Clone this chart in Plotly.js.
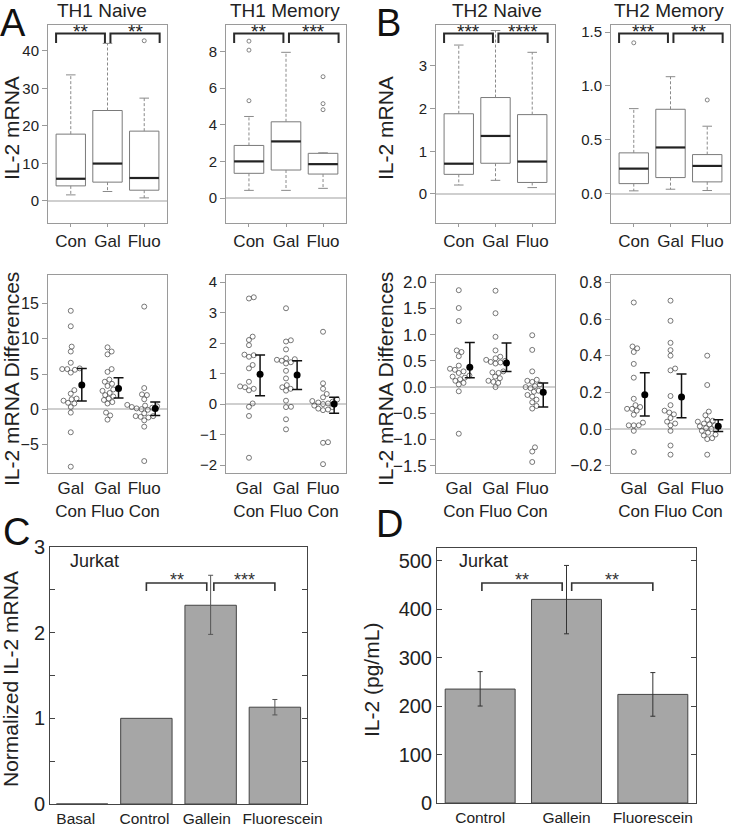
<!DOCTYPE html>
<html><head><meta charset="utf-8">
<script src="https://cdn.plot.ly/plotly-3.0.1.min.js"></script>
<style>html,body{margin:0;padding:0;background:#fff}#chart{width:731px;height:826px}</style>
</head><body><div id="chart"></div>
<script>
// ================= DATA =================
const boxCats = ['Con', 'Gal', 'Fluo'];
const diffCats = ['Gal<br>Con', 'Gal<br>Fluo', 'Fluo<br>Con'];

// TH1 Naive (box stats)
const th1nQ1 = [4.0, 5.0, 2.85];
const th1nMed = [5.9, 9.95, 6.1];
const th1nQ3 = [17.8, 24.1, 18.6];
const th1nLo = [1.6, 2.5, 0.8];
const th1nHi = [33.6, 42.0, 27.4];
const th1nOut = [[], [], [42.7]];
const th1nSig = ['**', '**'];
// TH1 Memory
const th1mQ1 = [1.35, 1.53, 1.31];
const th1mMed = [2.0, 3.09, 1.85];
const th1mQ3 = [2.87, 4.16, 2.44];
const th1mLo = [0.42, 0.42, 0.53];
const th1mHi = [4.45, 7.95, 2.47];
const th1mOut = [[8.56, 8.07, 5.31], [], [6.62, 5.15, 4.82]];
const th1mSig = ['**', '***'];
// TH2 Naive
const th2nQ1 = [0.46, 0.72, 0.27];
const th2nMed = [0.71, 1.36, 0.76];
const th2nQ3 = [1.88, 2.26, 1.86];
const th2nLo = [0.21, 0.32, 0.15];
const th2nHi = [3.49, 3.83, 3.32];
const th2nOut = [[], [], []];
const th2nSig = ['***', '****'];
// TH2 Memory
const th2mQ1 = [0.095, 0.151, 0.111];
const th2mMed = [0.234, 0.43, 0.259];
const th2mQ3 = [0.38, 0.784, 0.364];
const th2mLo = [0.028, 0.043, 0.031];
const th2mHi = [0.79, 1.086, 0.627];
const th2mOut = [[1.40], [], [0.87]];
const th2mSig = ['***', '**'];

// Differences: TH1 Naive
const d1nGalCon = [14.0, 11.8, 8.9, 8.2, 6.6, 5.8, 5.7, 5.7, 5.6, 5.2, 2.7, 2.2, 1.5, 1.4, 1.2, 0.9, 0.8, 0.3, -0.5, -3.3, -8.2];
const d1nGalFluo = [8.8, 8.2, 7.8, 5.7, 5.3, 4.2, 3.9, 3.6, 3.3, 2.8, 2.6, 2.3, 2.0, 1.8, 1.5, 1.3, 1.0, 0.8, -0.5, -0.9, -1.5];
const d1nFluoCon = [14.6, 3.0, 2.1, 2.0, 1.4, 0.6, 0.5, 0.4, 0.3, 0.2, 0.1, 0.0, -0.1, -0.6, -1.0, -1.0, -1.1, -1.2, -1.6, -2.5, -7.4];
const d1nMean = [3.43, 2.95, 0.1];
const d1nCiLo = [1.14, 1.57, -0.9];
const d1nCiHi = [5.8, 4.48, 1.0];
// Differences: TH1 Memory
const d1mGalCon = [3.5, 3.46, 2.21, 2.1, 1.93, 1.62, 1.6, 1.55, 1.28, 1.17, 0.73, 0.58, 0.55, 0.5, 0.45, 0.02, -0.09, -0.39, -1.76];
const d1mGalFluo = [3.14, 2.09, 2.05, 1.79, 1.5, 1.47, 1.45, 1.42, 1.37, 1.33, 1.09, 0.84, 0.62, 0.55, 0.5, 0.44, 0.11, -0.09, -0.1, -0.5, -0.83];
const d1mFluoCon = [2.37, 0.68, 0.5, 0.33, 0.22, 0.15, 0.1, 0.08, 0.05, 0.02, 0.0, -0.05, -0.1, -0.15, -0.18, -0.2, -1.25, -1.27, -1.97];
const d1mMean = [0.98, 0.95, 0.0];
const d1mCiLo = [0.27, 0.48, -0.3];
const d1mCiHi = [1.61, 1.42, 0.22];
// Differences: TH2 Naive
const d2nGalCon = [1.85, 1.51, 1.26, 0.70, 0.67, 0.59, 0.41, 0.35, 0.33, 0.30, 0.27, 0.22, 0.20, 0.18, 0.15, 0.12, 0.08, 0.05, -0.08, -0.89];
const d2nGalFluo = [1.84, 1.41, 0.96, 0.70, 0.58, 0.55, 0.52, 0.50, 0.48, 0.47, 0.45, 0.30, 0.28, 0.27, 0.20, 0.17, 0.12, 0.10, 0.08, 0.0];
const d2nFluoCon = [0.99, 0.71, 0.30, 0.14, 0.12, 0.10, 0.05, 0.02, 0.0, -0.02, -0.07, -0.09, -0.15, -0.18, -0.24, -0.29, -0.36, -0.41, -1.15, -1.23, -1.43];
const d2nMean = [0.38, 0.46, -0.10];
const d2nCiLo = [0.18, 0.30, -0.38];
const d2nCiHi = [0.85, 0.84, 0.08];
// Differences: TH2 Memory
const d2mGalCon = [0.69, 0.45, 0.44, 0.42, 0.355, 0.28, 0.165, 0.13, 0.12, 0.11, 0.11, 0.10, 0.078, 0.035, 0.02, 0.02, 0.02, -0.01, -0.125];
const d2mGalFluo = [0.70, 0.59, 0.47, 0.43, 0.40, 0.33, 0.32, 0.18, 0.13, 0.10, 0.09, 0.08, 0.06, 0.04, 0.03, 0.02, -0.01, -0.09, -0.14];
const d2mFluoCon = [0.40, 0.24, 0.095, 0.075, 0.05, 0.045, 0.04, 0.03, 0.025, 0.02, 0.015, 0.005, 0.0, -0.01, -0.02, -0.03, -0.035, -0.05, -0.055, -0.14];
const d2mMean = [0.187, 0.175, 0.015];
const d2mCiLo = [0.071, 0.062, -0.013];
const d2mCiHi = [0.307, 0.30, 0.05];

// Jurkat
const mrnaCats = ['Basal', 'Control', 'Gallein', 'Fluorescein'];
const mrnaVals = [0, 1.0, 2.32, 1.13];
const mrnaErrLo = [null, null, 1.98, 1.04];
const mrnaErrHi = [null, null, 2.67, 1.22];
const mrnaSig = ['**', '***'];
const protCats = ['Control', 'Gallein', 'Fluorescein'];
const protVals = [235, 420, 224];
const protErrLo = [200, 349, 179];
const protErrHi = [271, 490, 269];
const protSig = ['**', '**'];

// ================= LAYOUT =================
const W = 731, H = 826;
const FONT = '"Liberation Sans", Arial, Helvetica, sans-serif';
const TXT = '#222';
const layout = {
  width: W, height: H, margin: {l: 0, r: 0, t: 0, b: 0},
  paper_bgcolor: 'white', plot_bgcolor: 'white', showlegend: false,
  font: {family: FONT, color: TXT}, shapes: [], annotations: [], hovermode: false
};
const traces = [];
const py = v => 1 - v / H;
const pxX = v => v / W;

function addAxes(n, xd, yd, xopt, yopt) {
  const xs = n === 1 ? 'xaxis' : 'xaxis' + n, ys = n === 1 ? 'yaxis' : 'yaxis' + n;
  const xa = n === 1 ? 'x' : 'x' + n, ya = n === 1 ? 'y' : 'y' + n;
  layout[xs] = Object.assign({domain: [xd[0] / W, xd[1] / W], anchor: ya, showgrid: false, zeroline: false,
    showline: true, mirror: true, fixedrange: true, linewidth: 1}, xopt);
  layout[ys] = Object.assign({domain: [1 - yd[1] / H, 1 - yd[0] / H], anchor: xa, showgrid: false,
    showline: true, mirror: true, fixedrange: true, linewidth: 1}, yopt);
  return {x: xa, y: ya};
}
function ann(o) { layout.annotations.push(Object.assign({showarrow: false, xref: 'paper', yref: 'paper', xanchor: 'center'}, o)); }

const colX = [[48, 167], [226, 346], [436, 555], [611, 730]];
const titleX = [102, 285, 497, 669];
const rowBoxY = [25, 223], rowDiffY = [275, 473];
const catPos = [1, 2, 3];
const FRAME = '#9a9a9a';

// ---------- Box panels ----------
const boxPanels = [
  {title: 'TH1 Naive', q1: th1nQ1, med: th1nMed, q3: th1nQ3, lo: th1nLo, hi: th1nHi, out: th1nOut, sig: th1nSig, range: [-5.9, 46.9], dtick: 10, fmt: 'd'},
  {title: 'TH1 Memory', q1: th1mQ1, med: th1mMed, q3: th1mQ3, lo: th1mLo, hi: th1mHi, out: th1mOut, sig: th1mSig, range: [-1.36, 9.44], dtick: 2, fmt: 'd'},
  {title: 'TH2 Naive', q1: th2nQ1, med: th2nMed, q3: th2nQ3, lo: th2nLo, hi: th2nHi, out: th2nOut, sig: th2nSig, range: [-0.68, 3.96], dtick: 1, fmt: 'd'},
  {title: 'TH2 Memory', q1: th2mQ1, med: th2mMed, q3: th2mQ3, lo: th2mLo, hi: th2mHi, out: th2mOut, sig: th2mSig, range: [-0.27, 1.565], dtick: 0.5, fmt: '.1f'}
];
boxPanels.forEach((p, i) => {
  const ax = addAxes(i + 1, colX[i], rowBoxY,
    {range: [0.38, 3.62], tickmode: 'array', tickvals: catPos, ticktext: boxCats, ticks: 'outside', ticklen: 3,
     tickcolor: FRAME, linecolor: FRAME, tickfont: {size: 17, color: TXT}},
    {range: p.range, tick0: 0, dtick: p.dtick, tickformat: p.fmt, ticks: 'outside', ticklen: 5, tickcolor: FRAME,
     linecolor: FRAME, zeroline: true, zerolinecolor: '#cfcfcf', zerolinewidth: 1.5, tickfont: {size: 15, color: TXT}});
  traces.push({type: 'box', x: catPos, q1: p.q1, median: p.med, q3: p.q3, lowerfence: p.q1, upperfence: p.q3,
    width: 0.8, whiskerwidth: 0, boxpoints: false, line: {color: '#7a7a7a', width: 1}, fillcolor: 'white',
    xaxis: ax.x, yaxis: ax.y, hoverinfo: 'skip'});
  const wx = [], wy = [], cx = [], cy = [], mx = [], my = [], ox = [], oy = [];
  catPos.forEach((c, j) => {
    wx.push(c, c, null, c, c, null); wy.push(p.q3[j], p.hi[j], null, p.q1[j], p.lo[j], null);
    cx.push(c - 0.13, c + 0.13, null, c - 0.13, c + 0.13, null); cy.push(p.hi[j], p.hi[j], null, p.lo[j], p.lo[j], null);
    mx.push(c - 0.4, c + 0.4, null); my.push(p.med[j], p.med[j], null);
    p.out[j].forEach(v => { ox.push(c); oy.push(v); });
  });
  traces.push({type: 'scatter', mode: 'lines', x: wx, y: wy, line: {color: '#8a8a8a', width: 1, dash: '3px,2px'}, xaxis: ax.x, yaxis: ax.y});
  traces.push({type: 'scatter', mode: 'lines', x: cx, y: cy, line: {color: '#8a8a8a', width: 1}, xaxis: ax.x, yaxis: ax.y});
  traces.push({type: 'scatter', mode: 'lines', x: mx, y: my, line: {color: '#222', width: 2.2}, xaxis: ax.x, yaxis: ax.y});
  traces.push({type: 'scatter', mode: 'markers', x: ox, y: oy, marker: {symbol: 'circle-open', size: 4, color: '#666', line: {width: 0.8}}, xaxis: ax.x, yaxis: ax.y});
  // brackets
  const brX = [[0.6, 1.93], [2.08, 3.42]];
  brX.forEach((b, j) => {
    layout.shapes.push({type: 'path', xref: ax.x, yref: 'paper',
      path: `M ${b[0]},${py(43)} L ${b[0]},${py(33.5)} L ${b[1]},${py(33.5)} L ${b[1]},${py(43)}`,
      line: {color: '#2a2a2a', width: 2}});
    ann({xref: ax.x, x: (b[0] + b[1]) / 2, y: py(19), yanchor: 'top', text: p.sig[j], font: {size: 19, color: '#222'}});
  });
  ann({x: pxX(titleX[i]), y: py(10), yanchor: 'middle', text: p.title, font: {size: 19, color: TXT}});
});

// ---------- Difference panels ----------
function swarm(vals, pxPerY, pxPerX, d) {
  const idx = vals.map((v, i) => i).sort((a, b) => vals[a] - vals[b]);
  const placed = [], out = new Array(vals.length);
  idx.forEach(i => {
    const y = vals[i] * pxPerY;
    const cands = [0];
    placed.forEach(p => { const dy = Math.abs(p.y - y); if (dy < d) { const dx = Math.sqrt(d * d - dy * dy); cands.push(p.x + dx, p.x - dx); } });
    cands.sort((a, b) => Math.abs(a) - Math.abs(b) || b - a);
    let best = 0;
    for (const c of cands) { if (placed.every(p => (p.x - c) ** 2 + (p.y - y) ** 2 >= d * d - 1e-6)) { best = c; break; } }
    placed.push({x: best, y}); out[i] = best / pxPerX;
  });
  return out;
}
const diffPanels = [
  {groups: [d1nGalCon, d1nGalFluo, d1nFluoCon], mean: d1nMean, lo: d1nCiLo, hi: d1nCiHi, range: [-9.1, 19.1], dtick: 5, fmt: 'd', fs: 16},
  {groups: [d1mGalCon, d1mGalFluo, d1mFluoCon], mean: d1mMean, lo: d1mCiLo, hi: d1mCiHi, range: [-2.26, 4.23], dtick: 1, fmt: 'd', fs: 15},
  {groups: [d2nGalCon, d2nGalFluo, d2nFluoCon], mean: d2nMean, lo: d2nCiLo, hi: d2nCiHi, range: [-1.64, 2.14], dtick: 0.5, fmt: '.1f', fs: 17},
  {groups: [d2mGalCon, d2mGalFluo, d2mFluoCon], mean: d2mMean, lo: d2mCiLo, hi: d2mCiHi, range: [-0.24, 0.84], dtick: 0.2, fmt: '.1f', fs: 16}
];
diffPanels.forEach((p, i) => {
  const ax = addAxes(i + 5, colX[i], rowDiffY,
    {range: [0.38, 3.62], tickmode: 'array', tickvals: catPos, ticktext: diffCats, ticks: '', linecolor: FRAME,
     tickfont: {size: 17, color: TXT}},
    {range: p.range, tick0: 0, dtick: p.dtick, tickformat: p.fmt, ticks: 'outside', ticklen: 5, tickcolor: FRAME,
     linecolor: FRAME, zeroline: true, zerolinecolor: '#cfcfcf', zerolinewidth: 1.5, tickfont: {size: p.fs, color: TXT}});
  const pxPerY = (rowDiffY[1] - rowDiffY[0]) / (p.range[1] - p.range[0]);
  const pxPerX = (colX[i][1] - colX[i][0]) / (3.62 - 0.38);
  const xs = [], ys = [];
  p.groups.forEach((g, j) => {
    const off = swarm(g, pxPerY, pxPerX, 5);
    g.forEach((v, k) => { xs.push(catPos[j] + off[k]); ys.push(v); });
  });
  traces.push({type: 'scatter', mode: 'markers', x: xs, y: ys, marker: {symbol: 'circle-open', size: 5, color: '#555', line: {width: 0.8}}, xaxis: ax.x, yaxis: ax.y});
  traces.push({type: 'scatter', mode: 'markers', x: catPos.map(c => c + 0.3), y: p.mean,
    marker: {symbol: 'circle', size: 7, color: '#000'},
    error_y: {type: 'data', symmetric: false, array: p.hi.map((h, j) => h - p.mean[j]), arrayminus: p.mean.map((m, j) => m - p.lo[j]),
      color: '#111', thickness: 1.5, width: 5},
    xaxis: ax.x, yaxis: ax.y});
});

// ---------- Jurkat panels ----------
const DARK = '#444';
const mrnaLabelPos = [-0.1, 0.97, 1.94, 3.12];
const axC = addAxes(9, [50, 307], [547, 804],
  {range: [-0.5, 3.5], tickmode: 'array', tickvals: mrnaLabelPos, ticktext: mrnaCats, ticks: '', tickangle: 0, linecolor: DARK, tickfont: {size: 15.5, color: TXT}},
  {range: [0, 3], tick0: 0, dtick: 1, ticks: 'inside', ticklen: 5, tickcolor: DARK, linecolor: DARK, mirror: 'ticks',
   minor: {dtick: 0.5, ticks: 'inside', ticklen: 5, tickcolor: DARK}, tickfont: {size: 20, color: TXT}});
traces.push({type: 'bar', x: [0, 1, 2, 3], y: mrnaVals, width: 0.8, marker: {color: '#a6a6a6', line: {color: DARK, width: 1}}, xaxis: axC.x, yaxis: axC.y});
(function () {
  const ex = [], ey = [], up = [], dn = [];
  mrnaVals.forEach((v, j) => { if (mrnaErrHi[j] != null) { ex.push(j); ey.push(v); up.push(mrnaErrHi[j] - v); dn.push(v - mrnaErrLo[j]); } });
  traces.push({type: 'scatter', mode: 'markers', x: ex, y: ey, marker: {size: 1, color: 'rgba(0,0,0,0)'},
    error_y: {type: 'data', symmetric: false, array: up, arrayminus: dn, color: '#555', thickness: 1, width: 2.5}, xaxis: axC.x, yaxis: axC.y});
})();
const axD = addAxes(10, [437, 696], [548, 803],
  {range: [0.5, 3.5], tickmode: 'array', tickvals: [1, 2, 3], ticktext: protCats, ticks: '', tickangle: 0, linecolor: DARK, tickfont: {size: 15.5, color: TXT}},
  {range: [0, 526], tick0: 0, dtick: 100, ticks: 'inside', ticklen: 5, tickcolor: DARK, linecolor: DARK, mirror: 'ticks', tickfont: {size: 20, color: TXT}});
traces.push({type: 'bar', x: [1, 2, 3], y: protVals, width: 0.81, marker: {color: '#a6a6a6', line: {color: DARK, width: 1}},
  error_y: {type: 'data', symmetric: false, array: protErrHi.map((h, j) => h - protVals[j]), arrayminus: protVals.map((v, j) => v - protErrLo[j]), color: '#333', thickness: 1, width: 2.5},
  xaxis: axD.x, yaxis: axD.y});

const brC = [[1.0, 1.94], [2.05, 3.0]], brD = [[1.02, 1.95], [2.06, 3.0]];
[[axC, brC, mrnaSig, 68], [axD, brD, protSig, 457]].forEach(([ax, br, sig, jx]) => {
  br.forEach((b, j) => {
    layout.shapes.push({type: 'path', xref: ax.x, yref: 'paper',
      path: `M ${b[0]},${py(591)} L ${b[0]},${py(583)} L ${b[1]},${py(583)} L ${b[1]},${py(591)}`,
      line: {color: '#333', width: 1.6}});
    ann({xref: ax.x, x: (b[0] + b[1]) / 2, y: py(568), yanchor: 'top', text: sig[j], font: {size: 18, color: '#333'}});
  });
  ann({x: pxX(jx), xanchor: 'left', y: py(561), yanchor: 'middle', text: 'Jurkat', font: {size: 18, color: TXT}});
});

// ---------- Y titles & panel letters ----------
const yt = (x, y, t) => ann({x: pxX(x), y: py(y), text: t, textangle: -90, xanchor: 'center', yanchor: 'middle', font: {size: 21, color: TXT}});
yt(11, 128, 'IL-2 mRNA'); yt(385, 128, 'IL-2 mRNA');
yt(11, 379, 'IL-2 mRNA Differences'); yt(385, 379, 'IL-2 mRNA Differences');
yt(10, 679, 'Normalized IL-2 mRNA'); yt(371, 680, 'IL-2 (pg/mL)');
const letter = (x, y, t, anchor) => ann({x: pxX(x), y: py(y), text: t, xanchor: 'left', yanchor: anchor, font: {size: 38, color: '#111'}});
letter(-2, 0, 'A', 'top'); letter(374, 0, 'B', 'top'); letter(1, 532, 'C', 'middle'); letter(374, 524, 'D', 'middle');

Plotly.newPlot('chart', traces, layout, {displayModeBar: false, staticPlot: true});
</script>
</body></html>
